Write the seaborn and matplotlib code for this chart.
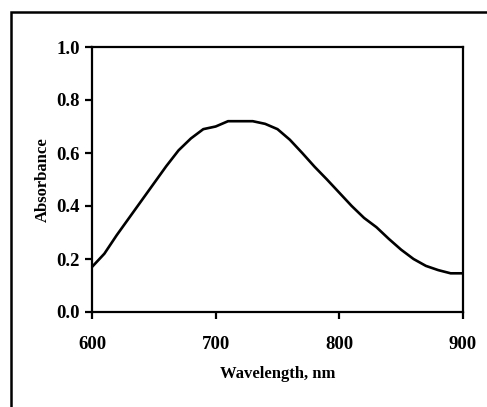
import numpy as np
import pandas as pd
import matplotlib
matplotlib.use("Agg")
import matplotlib.pyplot as plt
from matplotlib.patches import Rectangle
import seaborn as sns

# values
wavelength = [600, 610, 620, 630, 640, 650, 660, 670, 680, 690,
              700, 710, 720, 730, 740, 750, 760, 770, 780, 790,
              800, 810, 820, 830, 840, 850, 860, 870, 880, 890, 900]
absorbance = [0.17, 0.22, 0.29, 0.355, 0.42, 0.485, 0.55, 0.61, 0.655, 0.69,
              0.70, 0.72, 0.72, 0.72, 0.71, 0.69, 0.65, 0.60, 0.548, 0.50,
              0.45, 0.40, 0.355, 0.32, 0.276, 0.235, 0.20, 0.174, 0.158, 0.146, 0.146]
x_ticks = [600, 700, 800, 900]
y_ticks = [0.0, 0.2, 0.4, 0.6, 0.8, 1.0]

df = pd.DataFrame({'wavelength': wavelength, 'absorbance': absorbance})

sns.set_theme(style="ticks")
plt.rcParams['font.family'] = ['Liberation Serif', 'DejaVu Serif']
plt.rcParams['font.weight'] = 'bold'
plt.rcParams['text.color'] = 'black'
plt.rcParams['axes.labelcolor'] = 'black'

fig = plt.figure(figsize=(4.87, 4.07), dpi=100)
ax = fig.add_axes([92 / 487, 1 - 312 / 407, (463 - 92) / 487, (312 - 47) / 407])

sns.lineplot(data=df, x='wavelength', y='absorbance', color='black', linewidth=1.9, ax=ax)

ax.set_xlim(600, 900)
ax.set_ylim(0, 1.0)
ax.set_xticks(x_ticks)
ax.set_yticks(y_ticks)
ax.set_yticklabels([f'{v:.1f}' for v in y_ticks])
ax.set_xlabel('Wavelength, nm', fontsize=12, fontweight='bold', labelpad=10, color='black')
ax.set_ylabel('Absorbance', fontsize=12, fontweight='bold', labelpad=4, color='black')

for side in ['left', 'right', 'top', 'bottom']:
    ax.spines[side].set_visible(True)
    ax.spines[side].set_linewidth(1.6)
    ax.spines[side].set_color('black')
ax.tick_params(axis='both', direction='out', length=5, width=1.6, color='black',
               labelsize=13.5, labelcolor='black')
ax.tick_params(axis='x', pad=12)
ax.tick_params(axis='y', pad=4)
for lab in ax.get_xticklabels() + ax.get_yticklabels():
    lab.set_fontweight('bold')

# outer frame, partly running off the picture
frame = Rectangle((11 / 487, -0.1), 1.2, 1 - 12.5 / 407 + 0.1, transform=fig.transFigure,
                  fill=False, edgecolor='black', linewidth=1.8, clip_on=False)
fig.patches.append(frame)

fig.savefig('out.png', dpi=100)
